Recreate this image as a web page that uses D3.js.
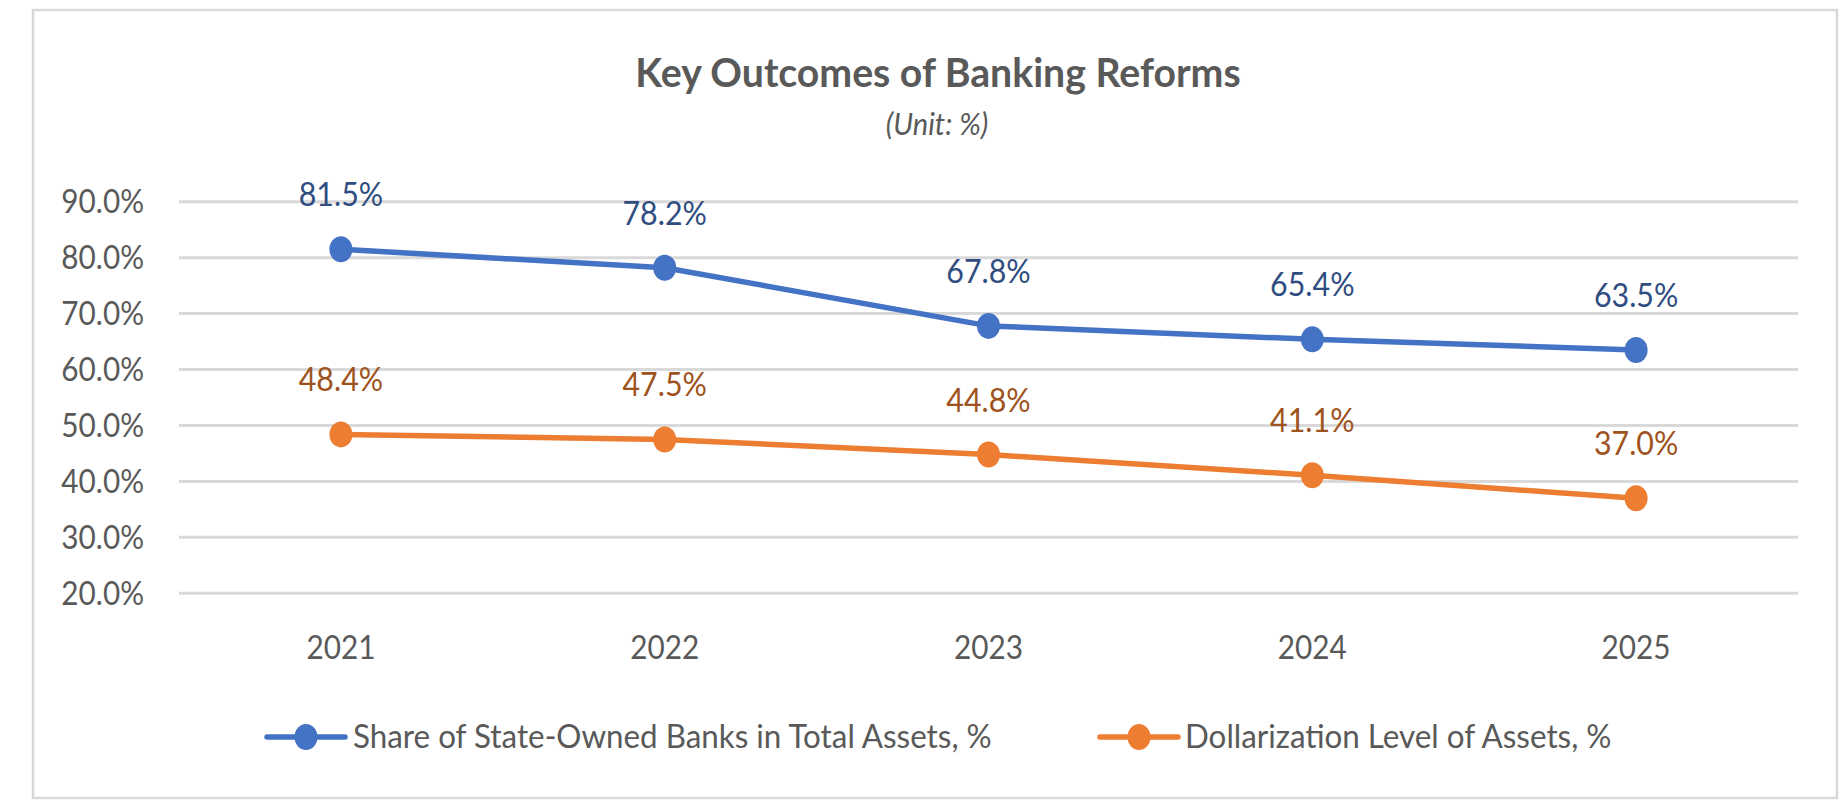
<!DOCTYPE html>
<html>
<head>
<meta charset="utf-8">
<script src="https://cdn.jsdelivr.net/npm/d3@7"></script>
<style>
  html, body { margin: 0; padding: 0; background: #ffffff; }
  svg { display: block; }
  text { font-family: Lato, "Open Sans", sans-serif; }
</style>
</head>
<body>
<svg id="chart" width="1840" height="800"></svg>
<script>
// Chart data
const years = ["2021", "2022", "2023", "2024", "2025"];
const stateBankShare = [81.5, 78.2, 67.8, 65.4, 63.5];
const dollarizationLevel = [48.4, 47.5, 44.8, 41.1, 37.0];
const yTickValues = [20, 30, 40, 50, 60, 70, 80, 90];
const seriesNames = ["Share of State-Owned Banks in Total Assets, %", "Dollarization Level of Assets, %"];
const chartTitle = "Key Outcomes of Banking Reforms";
const chartSubtitle = "(Unit: %)";

const series = [
  { name: seriesNames[0], values: stateBankShare, line: "#4472C4", label: "#2F4D80" },
  { name: seriesNames[1], values: dollarizationLevel, line: "#ED7D31", label: "#9E5220" }
];

const svg = d3.select("#chart");
const textGray = "#595959";
const gridGray = "#D9D9D9";
const squeeze = 0.93; // default horizontal condensing of text

// Place a text horizontally condensed around its anchor point
function addText(parent, x, y, str, opts) {
  const g = parent.append("g")
    .attr("transform", `translate(${x},${y}) scale(${opts.sx || squeeze},1)`);
  const t = g.append("text")
    .attr("x", 0).attr("y", 0)
    .attr("text-anchor", opts.anchor || "start")
    .attr("font-size", opts.size)
    .attr("fill", opts.fill || textGray)
    .text(str);
  if (opts.weight) t.attr("font-weight", opts.weight);
  if (opts.style) t.attr("font-style", opts.style);
  return t;
}

// Chart area border
svg.append("rect")
  .attr("x", 33).attr("y", 10)
  .attr("width", 1804).attr("height", 788)
  .attr("fill", "#ffffff")
  .attr("stroke", gridGray)
  .attr("stroke-width", 2.5);

// Title and subtitle
addText(svg, 938, 87, chartTitle, { anchor: "middle", size: 40, weight: 700, sx: 0.98 });
addText(svg, 937, 135, chartSubtitle, { anchor: "middle", size: 30, style: "italic", sx: 0.97 });

// Scales
const plotLeft = 179, plotRight = 1798;
const x = d3.scalePoint().domain(years).range([plotLeft, plotRight]).padding(0.5);
const y = d3.scaleLinear().domain([20, 90]).range([593.3, 201.7]);

// Horizontal gridlines
svg.append("g")
  .selectAll("line")
  .data(yTickValues)
  .join("line")
  .attr("x1", plotLeft).attr("x2", plotRight)
  .attr("y1", d => y(d)).attr("y2", d => y(d))
  .attr("stroke", gridGray)
  .attr("stroke-width", 3);

// Y axis tick labels
const fmt = d3.format(".1f");
const yLabels = svg.append("g");
yTickValues.forEach(v => {
  addText(yLabels, 144, y(v) + 11.5, fmt(v) + "%", { anchor: "end", size: 32 });
});

// X axis tick labels
const xLabels = svg.append("g");
years.forEach(yr => {
  addText(xLabels, x(yr), 659, yr, { anchor: "middle", size: 32 });
});

// Lines, markers and value labels
const lineGen = d3.line()
  .x((d, i) => x(years[i]))
  .y(d => y(d));

series.forEach(s => {
  const g = svg.append("g");
  g.append("path")
    .datum(s.values)
    .attr("d", lineGen)
    .attr("fill", "none")
    .attr("stroke", s.line)
    .attr("stroke-width", 5.5)
    .attr("stroke-linejoin", "round");
  g.selectAll("ellipse")
    .data(s.values)
    .join("ellipse")
    .attr("cx", (d, i) => x(years[i]))
    .attr("cy", d => y(d))
    .attr("rx", 11.5)
    .attr("ry", 13)
    .attr("fill", s.line);
  s.values.forEach((v, i) => {
    addText(g, x(years[i]), y(v) - 43, fmt(v) + "%", { anchor: "middle", size: 32, fill: s.label, sx: 0.95 });
  });
});

// Legend
const legendItems = [
  { s: series[0], x0: 267, x1: 345, tx: 353 },
  { s: series[1], x0: 1100, x1: 1178, tx: 1185 }
];
const legendY = 737;
const legend = svg.append("g");
legendItems.forEach(item => {
  legend.append("line")
    .attr("x1", item.x0).attr("x2", item.x1)
    .attr("y1", legendY).attr("y2", legendY)
    .attr("stroke", item.s.line)
    .attr("stroke-width", 5.5)
    .attr("stroke-linecap", "round");
  legend.append("ellipse")
    .attr("cx", (item.x0 + item.x1) / 2)
    .attr("cy", legendY)
    .attr("rx", 11.5).attr("ry", 13)
    .attr("fill", item.s.line);
  addText(legend, item.tx, legendY + 11, item.s.name, { anchor: "start", size: 32, sx: 0.98 });
});
</script>
</body>
</html>
